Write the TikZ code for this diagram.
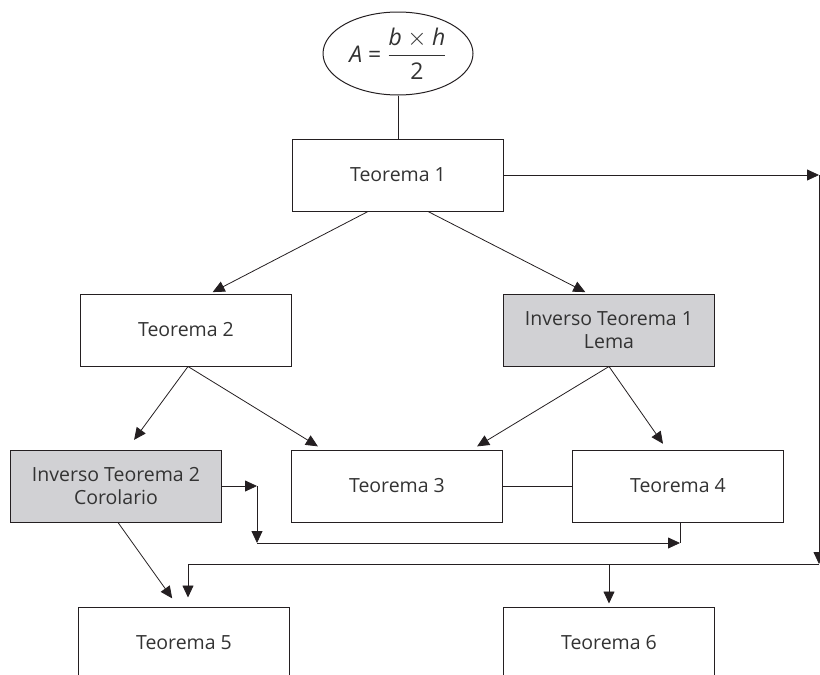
\documentclass[tikz,border=0pt]{standalone}
\usepackage{amsmath}
\usepackage{fontspec}
\setmainfont{Open Sans}
\usetikzlibrary{arrows.meta,shapes.geometric}
\definecolor{LineClr}{rgb}{0.14,0.12,0.13}
\definecolor{BoxClr}{rgb}{0.82,0.82,0.83}

\begin{document}
\begin{tikzpicture}[x=1pt,y=-1pt,
  every node/.style={font=\fontsize{19.5}{23}\selectfont,text=black!80},
  caja/.style={draw=LineClr,line width=1pt,minimum width=211pt,minimum height=72pt,align=center,inner sep=0pt},
  inverso/.style={caja,fill=BoxClr},
  flecha/.style={-{Triangle[length=12pt,width=11pt]},line width=0.8pt,draw=LineClr},
  linea/.style={line width=0.8pt,draw=LineClr}]
\clip (0,0) rectangle (820,675);

\node[ellipse,draw=LineClr,line width=1pt,minimum width=150pt,minimum height=83pt,inner sep=0pt,
  font=\fontsize{23}{27}\selectfont] (area) at (398,53.5)
  {\textit{A} = $\dfrac{\textit{b}\times\textit{h}}{\text{2}}$};

\node[caja] (t1) at (398,175) {Teorema 1};
\node[caja] (t2) at (186,330) {Teorema 2};
\node[inverso] (inv1) at (609,330) {Inverso Teorema 1\\Lema};
\node[inverso] (inv2) at (116,486) {Inverso Teorema 2\\Corolario};
\node[caja] (t3) at (397,486) {Teorema 3};
\node[caja] (t4) at (678,486) {Teorema 4};
\node[caja] (t5) at (184,643) {Teorema 5};
\node[caja] (t6) at (609,643) {Teorema 6};

\coordinate (c1) at (257,486);
\coordinate (c2) at (257,543);
\coordinate (c3) at (680,543);
\coordinate (r1) at (819,175);
\coordinate (r2) at (819,564);
\coordinate (l1) at (188,564);

\draw[linea] (area.south) -- (t1.north);
\draw[flecha,shorten >=3pt] ([xshift=-30pt]t1.south) -- ([xshift=24pt]t2.north);
\draw[flecha,shorten >=3pt] ([xshift=30pt]t1.south) -- ([xshift=-21pt]inv1.north);

\draw[flecha,shorten >=12pt] ([xshift=2pt]t2.south) -- ([xshift=11pt]inv2.north);
\draw[flecha,shorten >=6pt] ([xshift=2pt]t2.south) -- ([xshift=-74pt]t3.north);
\draw[flecha,shorten >=6pt] (inv1.south) -- ([xshift=75pt]t3.north);
\draw[flecha,shorten >=7pt] (inv1.south) -- ([xshift=-11pt]t4.north);

\draw[linea] (t3.east) -- (t4.west);

% Corolario hacia Teorema 4
\draw[flecha] (inv2.east) -- (c1);
\draw[flecha] (c1) -- (c2);
\draw[flecha] (c2) -- (c3);
\draw[linea] ([xshift=2pt]t4.south) -- (c3);

% Teorema 1 hacia Teorema 5 y 6
\draw[flecha] (t1.east) -- (r1);
\draw[flecha] (r1) -- (r2);
\draw[linea] (r2) -- (l1);
\draw[flecha,shorten >=9pt] (l1) -- ([xshift=4pt]t5.north);
\draw[flecha,shorten >=3pt] (t6.north |- l1) -- (t6.north);
\draw[flecha,shorten >=10pt] ([xshift=2pt]inv2.south) -- ([xshift=-6pt]t5.north);
\end{tikzpicture}
\end{document}
